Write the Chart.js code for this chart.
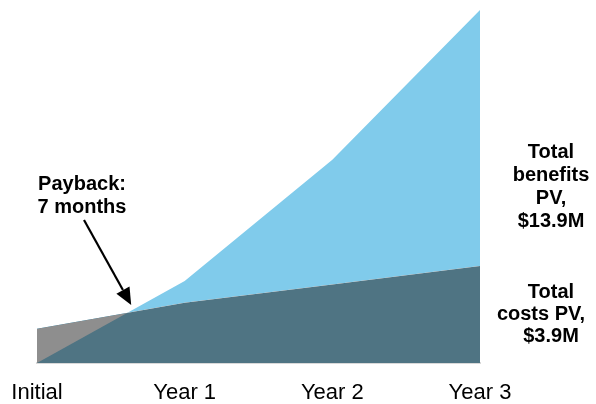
<!DOCTYPE html>
<html>
<head>
<meta charset="utf-8">
<script src="https://cdn.jsdelivr.net/npm/chart.js@4/dist/chart.umd.min.js"></script>
<style>
  html, body { margin: 0; padding: 0; background: #ffffff; }
  canvas { display: block; }
</style>
</head>
<body>
<canvas id="chart" width="596" height="404"></canvas>
<script>
// Cumulative benefits and costs ($M, present value) over the period
const periods = ['Initial', 'Year 1', 'Year 2', 'Year 3'];
const benefits = [0, 3.23, 8.0, 13.9];
const costs = [1.35, 2.37, 3.09, 3.82];

const benefitsBlock = ['Total', 'benefits', 'PV,', '$13.9M'];
const costsBlock = ['Total', 'costs PV,', '$3.9M'];
const paybackBlock = ['Payback:', '7 months'];

const BLUE = '#80CBEB';
const SLATE = '#4F7483';
const GREY = '#8E8E8E';

// Text and the payback arrow drawn on top of the areas
const annotations = {
  id: 'annotations',
  afterDraw(chart) {
    const ctx = chart.ctx;
    const xs = chart.scales.x, ys = chart.scales.y;
    const area = chart.chartArea;

    // crossing of the two cumulative lines (payback point)
    let cx = null, cy = null;
    for (let i = 0; i < periods.length - 1; i++) {
      const d0 = benefits[i] - costs[i];
      const d1 = benefits[i + 1] - costs[i + 1];
      if (d0 < 0 && d1 >= 0) {
        const t = d0 / (d0 - d1);
        const x0 = xs.getPixelForValue(i), x1 = xs.getPixelForValue(i + 1);
        cx = x0 + (x1 - x0) * t;
        cy = ys.getPixelForValue(costs[i] + (costs[i + 1] - costs[i]) * t);
        break;
      }
    }

    ctx.save();
    ctx.fillStyle = '#000';
    ctx.font = 'bold 20px "Liberation Sans", Arial, sans-serif';
    ctx.textAlign = 'center';
    ctx.textBaseline = 'alphabetic';

    const rx = area.right + 71;
    benefitsBlock.forEach((s, i) => ctx.fillText(s, rx, 158 + i * 23));
    const costsX = [rx, rx - 10, rx];
    costsBlock.forEach((s, i) => ctx.fillText(s, costsX[i], 298 + i * 22));
    paybackBlock.forEach((s, i) => ctx.fillText(s, 82, 190 + i * 23));

    if (cx !== null) {
      const tipX = cx + 4, tipY = cy - 8;
      const sx = 84, sy = 220;
      const ang = Math.atan2(tipY - sy, tipX - sx);
      const headLen = 17, headHalf = 7.5;
      const bx = tipX - headLen * Math.cos(ang);
      const by = tipY - headLen * Math.sin(ang);
      ctx.strokeStyle = '#000';
      ctx.lineWidth = 2.2;
      ctx.beginPath();
      ctx.moveTo(sx, sy);
      ctx.lineTo(bx, by);
      ctx.stroke();
      ctx.beginPath();
      ctx.moveTo(tipX, tipY);
      ctx.lineTo(bx + headHalf * Math.sin(ang), by - headHalf * Math.cos(ang));
      ctx.lineTo(bx - headHalf * Math.sin(ang), by + headHalf * Math.cos(ang));
      ctx.closePath();
      ctx.fill();
    }
    ctx.restore();
  }
};

new Chart(document.getElementById('chart'), {
  type: 'line',
  data: {
    labels: periods,
    datasets: [
      {
        label: 'Benefits',
        data: benefits,
        borderWidth: 0,
        pointRadius: 0,
        tension: 0,
        fill: { target: 1, above: BLUE, below: GREY }
      },
      {
        label: 'Costs',
        data: costs,
        borderWidth: 0,
        pointRadius: 0,
        tension: 0,
        backgroundColor: SLATE,
        fill: 'origin'
      }
    ]
  },
  options: {
    responsive: false,
    animation: false,
    devicePixelRatio: 1,
    layout: { padding: { left: 37, right: 116, top: 10, bottom: 0 } },
    plugins: {
      legend: { display: false },
      tooltip: { enabled: false }
    },
    scales: {
      x: {
        offset: false,
        grid: { display: false, drawTicks: true, tickLength: 17 },
        border: { display: true, color: '#D9D9D9', width: 2 },
        ticks: {
          padding: 0,
          color: '#000',
          font: { family: '"Liberation Sans", Arial, sans-serif', size: 22 },
          maxRotation: 0,
          autoSkip: false
        },
        afterFit(scale) { scale.height = 41; }
      },
      y: {
        display: false,
        min: 0,
        max: 13.9
      }
    }
  },
  plugins: [annotations]
});
</script>
</body>
</html>
